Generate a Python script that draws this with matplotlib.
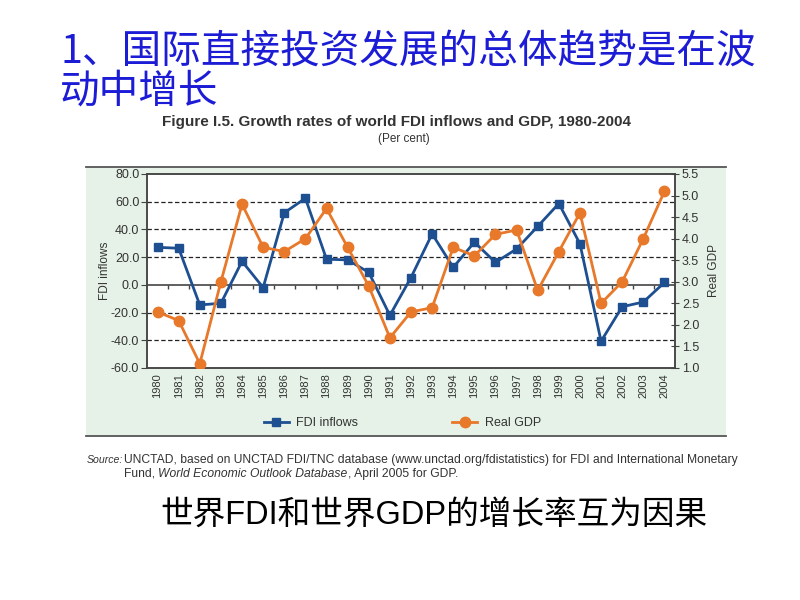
import numpy as np
import matplotlib
matplotlib.use("Agg")
import matplotlib.pyplot as plt
from matplotlib.patches import Rectangle
from matplotlib.lines import Line2D

# --- Data ---
years = [str(y) for y in range(1980, 2005)]
fdi_inflows = [27.1, 26.4, -14.5, -13.3, 17.0, -2.0, 52.0, 62.5, 18.5, 18.0, 9.0,
               -22.0, 5.3, 36.8, 12.6, 30.8, 16.2, 25.9, 42.2, 58.7, 29.6,
               -40.7, -15.8, -12.4, 1.7]
real_gdp = [2.3, 2.1, 1.1, 3.0, 4.8, 3.8, 3.7, 4.0, 4.7, 3.8, 2.9,
            1.7, 2.3, 2.4, 3.8, 3.6, 4.1, 4.2, 2.8, 3.7, 4.6,
            2.5, 3.0, 4.0, 5.1]
fdi_ticks = [-60, -40, -20, 0, 20, 40, 60, 80]
gdp_ticks = [1.0, 1.5, 2.0, 2.5, 3.0, 3.5, 4.0, 4.5, 5.0, 5.5]

BLUE = "#1d4f91"
ORANGE = "#e8782a"
PANEL = "#e6f2e7"
GRAY = "#333333"
CJK = ["Noto Sans CJK SC", "DejaVu Sans"]
MIX = ["Liberation Sans", "Noto Sans CJK SC"]
LAT = ["Liberation Sans", "DejaVu Sans"]

fig = plt.figure(figsize=(8, 6), dpi=100)
fig.patch.set_facecolor("white")

# green chart panel with rules top and bottom
fig.add_artist(Rectangle((0.1075, 0.2733), 0.80, 0.4484, transform=fig.transFigure,
                         facecolor=PANEL, edgecolor="none", zorder=0))
for yy in (0.2733, 0.7217):
    fig.add_artist(Line2D([0.1075, 0.9075], [yy, yy], transform=fig.transFigure,
                          color="#555555", lw=1.3))

ax = fig.add_axes([0.18375, 0.3867, 0.66, 0.3233])
ax.set_facecolor("white")
x = np.arange(len(years))

for yv in fdi_ticks:
    if yv in (fdi_ticks[0], fdi_ticks[-1]):
        continue
    if yv == 0:
        ax.axhline(0, color="#444444", lw=1.2, zorder=1)
    else:
        ax.axhline(yv, color="#222222", lw=0.9, ls=(0, (3.5, 2)), zorder=1)
# small ticks on the zero line at category boundaries
ax.plot(x[:-1] + 0.5, np.zeros(len(x) - 1), ls="none", marker=3, ms=3,
        mec="#444444", mew=1, zorder=1)

l1, = ax.plot(x, fdi_inflows, color=BLUE, lw=2, marker="s", ms=5.5, zorder=3,
              label="FDI inflows")
ax.set_xlim(-0.5, len(years) - 0.5)
ax.set_ylim(-60, 80)
ax.set_yticks(fdi_ticks)
ax.set_yticklabels([f"{v:.1f}" for v in fdi_ticks], fontsize=9, color=GRAY, family=LAT)
ax.set_xticks(x)
ax.set_xticklabels(years, rotation=90, fontsize=8, color=GRAY, family=LAT)
ax.tick_params(axis="x", length=0, pad=4)
ax.tick_params(axis="y", direction="out", length=4, color="#444444", pad=1.5)
ax.set_ylabel("FDI inflows", fontsize=8.5, color=GRAY, family=LAT, labelpad=0)

ax2 = ax.twinx()
l2, = ax2.plot(x, real_gdp, color=ORANGE, lw=2, marker="o", ms=7.5, zorder=4,
               label="Real GDP")
ax2.set_ylim(1.0, 5.5)
ax2.set_yticks(gdp_ticks)
ax2.set_yticklabels([f"{v:.1f}" for v in gdp_ticks], fontsize=9, color=GRAY, family=LAT)
ax2.tick_params(axis="y", direction="inout", length=6, color="#444444", pad=2)
ax2.set_ylabel("Real GDP", fontsize=8.5, color=GRAY, family=LAT, labelpad=6)

for a in (ax, ax2):
    for s in a.spines.values():
        s.set_color("#444444")
        s.set_linewidth(1.1)

fig.legend(handles=[l1, l2], loc="center", bbox_to_anchor=(0.503, 0.295), ncol=2,
           frameon=False, prop={"family": LAT, "size": 9}, handlelength=2.0,
           columnspacing=7.5, handletextpad=0.6, labelcolor=GRAY)

# headings
fig.text(0.075, 0.912, "1、国际直接投资发展的总体趋势是在波", color="#1c1cd6",
         fontsize=28.5, family=CJK, va="center", ha="left")
fig.text(0.075, 0.848, "动中增长", color="#1c1cd6", fontsize=28.5, family=CJK,
         va="center", ha="left")
fig.text(0.496, 0.797, "Figure I.5. Growth rates of world FDI inflows and GDP, 1980-2004",
         fontsize=11, fontweight="bold", color=GRAY, family=LAT, ha="center", va="center")
fig.text(0.505, 0.769, "(Per cent)", fontsize=8.5, color=GRAY, family=LAT,
         ha="center", va="center")

# source note
fs = 8.7
fig.text(0.109, 0.2333, "Source:", fontsize=7.6, style="italic", color=GRAY, family=LAT,
         va="center")
fig.text(0.155, 0.2333, "UNCTAD, based on UNCTAD FDI/TNC database (www.unctad.org/fdistatistics) "
         "for FDI and International Monetary", fontsize=fs, color=GRAY, family=LAT, va="center")
renderer = fig.canvas.get_renderer()
xpos = 0.155
for part, sty in [("Fund, ", "normal"), ("World Economic Outlook Database", "italic"),
                  (", April 2005 for GDP.", "normal")]:
    t = fig.text(xpos, 0.21, part, fontsize=fs, style=sty, color=GRAY, family=LAT, va="center")
    bb = t.get_window_extent(renderer)
    xpos += bb.width / fig.bbox.width

fig.text(0.2, 0.142, "世界FDI和世界GDP的增长率互为因果", fontsize=23.5, family=MIX,
         color="black", va="center", ha="left")

fig.savefig("out.png", dpi=100)
